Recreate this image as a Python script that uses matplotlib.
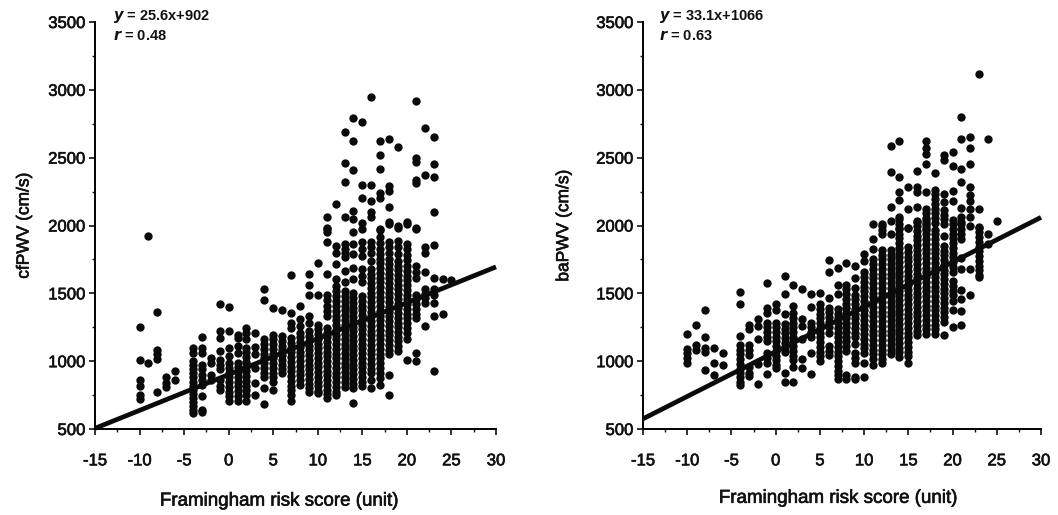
import matplotlib
matplotlib.use("Agg")
import matplotlib.pyplot as plt
import matplotlib.patheffects as pe
from matplotlib.ticker import MultipleLocator

plt.rcParams['font.family'] = ['Liberation Sans', 'DejaVu Sans']

# Values: {risk score: [PWV values]}
cf_pwv = {
    -10: [1255, 1005, 860, 820, 750, 720],
    -9: [1925, 985],
    -8: [1365, 1080, 1050, 1015, 775],
    -7: [880, 840, 810],
    -6: [930, 860],
    -4: [1100, 1060, 1000, 970, 940, 910, 880, 850, 820, 790, 760, 730, 700, 670, 640, 620],
    -3: [1180, 1100, 1060, 975, 940, 900, 860, 825, 745, 640, 625],
    -2: [1025, 985, 900, 860],
    -1: [1420, 1220, 1170, 1075, 1010, 975, 940, 860, 815, 790],
    0: [1400, 1225, 1100, 1035, 985, 950, 915, 880, 845, 810, 775, 740, 705],
    1: [1195, 1170, 1110, 1060, 990, 955, 920, 885, 850, 815, 780, 745, 705],
    2: [1245, 1210, 1160, 1100, 1065, 1030, 995, 960, 925, 890, 855, 820, 785, 750, 705],
    3: [1205, 1105, 1050, 950, 840, 750],
    4: [1530, 1450, 1160, 1125, 1090, 1055, 1020, 985, 950, 915, 880, 800, 685],
    5: [1395, 1195, 1160, 1125, 1090, 1055, 1020, 985, 950, 915, 880, 845, 790],
    6: [1380, 1185, 1150, 1115, 1080, 1045, 1010, 975, 940, 910],
    7: [1635, 1355, 1280, 1245, 1170, 1135, 1100, 1065, 1030, 995, 960, 925, 890, 855, 820, 785, 750, 705],
    8: [1405, 1310, 1260, 1210, 1175, 1140, 1105, 1070, 1035, 1000, 965, 930, 895, 860, 825],
    9: [1645, 1565, 1490, 1330, 1285, 1220, 1185, 1150, 1115, 1080, 1045, 1010, 975, 940, 905, 870, 835, 800, 775],
    10: [1720, 1490, 1270, 1235, 1200, 1165, 1130, 1095, 1060, 1025, 990, 955, 920, 885, 850, 815, 780, 765],
    11: [2060, 1980, 1975, 1950, 1875, 1640, 1490, 1450, 1410, 1370, 1330, 1245, 1210, 1175, 1140, 1105, 1070, 1035, 1000, 965, 930, 895, 860, 825, 790, 755, 730],
    12: [2156, 1850, 1800, 1715, 1605, 1555, 1515, 1480, 1440, 1405, 1370, 1335, 1300, 1265, 1230, 1195, 1160, 1125, 1090, 1055, 1020, 985, 950, 915, 880, 845, 810, 775, 750],
    13: [2690, 2460, 2320, 2060, 1865, 1830, 1795, 1765, 1665, 1580, 1520, 1480, 1445, 1410, 1375, 1340, 1305, 1270, 1235, 1200, 1165, 1130, 1095, 1060, 1025, 990, 955, 920, 885, 850, 810],
    14: [2795, 2620, 2410, 2105, 2050, 1950, 1865, 1790, 1690, 1605, 1500, 1465, 1430, 1395, 1360, 1325, 1290, 1255, 1220, 1185, 1150, 1115, 1080, 1045, 1010, 975, 940, 905, 870, 835, 800, 695],
    15: [2760, 2300, 2205, 2020, 1975, 1875, 1830, 1775, 1680, 1630, 1580, 1480, 1445, 1410, 1375, 1340, 1305, 1270, 1235, 1200, 1165, 1130, 1095, 1060, 1025, 990, 955, 920, 885, 850, 815],
    16: [2950, 2300, 2180, 2100, 2060, 1875, 1840, 1800, 1740, 1680, 1645, 1610, 1575, 1540, 1505, 1470, 1435, 1400, 1365, 1330, 1295, 1260, 1225, 1190, 1155, 1120, 1085, 1050, 1015, 980, 945, 910, 860, 800],
    17: [2620, 2520, 2420, 2240, 2205, 1970, 1975, 1915, 1870, 1830, 1790, 1755, 1720, 1685, 1650, 1615, 1580, 1545, 1510, 1475, 1440, 1405, 1370, 1335, 1300, 1265, 1230, 1195, 1160, 1125, 1090, 1055, 1020, 985, 950, 915, 875, 825],
    18: [2640, 2290, 2255, 2140, 2010, 2025, 1880, 1840, 1800, 1750, 1715, 1680, 1645, 1610, 1575, 1540, 1505, 1470, 1435, 1400, 1365, 1330, 1295, 1260, 1225, 1190, 1155, 1120, 1085, 1050, 900, 750],
    19: [2575, 1985, 2000, 1885, 1840, 1790, 1740, 1705, 1670, 1635, 1600, 1565, 1530, 1495, 1460, 1425, 1390, 1355, 1320, 1285, 1250, 1215, 1180, 1145, 1110, 1075],
    20: [2010, 2025, 1865, 1825, 1785, 1745, 1700, 1665, 1630, 1595, 1560, 1525, 1490, 1455, 1420, 1385, 1350, 1315, 1280, 1245, 1210, 1160, 1010],
    21: [2920, 2495, 2470, 2335, 2315, 1985, 1975, 1700, 1660, 1610, 1490, 1455, 1420, 1385, 1345, 1315, 1060, 1000],
    22: [2720, 2370, 1840, 1800, 1655, 1530, 1495, 1465, 1430, 1260],
    23: [2655, 2455, 2355, 2100, 1855, 1615, 1530, 1490, 1430, 1330, 930],
    24: [1605, 1345],
    25: [1595],
}

ba_pwv = {
    -10: [1200, 1090, 1060, 1025, 990],
    -9: [1265, 1120, 1080],
    -8: [1375, 1180, 1100, 1065, 935],
    -7: [1100, 990, 900],
    -6: [1060, 975],
    -4: [1510, 1420, 1185, 1120, 1085, 1050, 1015, 980, 945, 910, 880, 845, 825],
    -3: [1270, 1235, 1120, 1085, 1045, 960, 910, 890],
    -2: [1310, 1260, 1160, 980, 835],
    -1: [1575, 1395, 1355, 1285, 1250, 1215, 1180, 1145, 1060, 1025, 985, 905],
    0: [1420, 1380, 1285, 1250, 1215, 1180, 1145, 1110, 1075, 1040, 1005, 970, 950],
    1: [1630, 1495, 1345, 1275, 1240, 1205, 1170, 1135, 1100, 1065, 915, 850],
    2: [1560, 1410, 1355, 1320, 1285, 1250, 1215, 1180, 1145, 1110, 1075, 1040, 1005, 960, 850],
    3: [1535, 1310, 1260, 1160, 1015, 950],
    4: [1495, 1400, 1285, 1250, 1215, 1175, 1060, 905],
    5: [1505, 1420, 1385, 1350, 1315, 1280, 1245, 1210, 1175, 1140, 1105, 1070, 1035, 1000],
    6: [1745, 1660, 1465, 1395, 1360, 1325, 1290, 1255, 1210, 1110, 1075, 1045],
    7: [1685, 1565, 1495, 1385, 1350, 1315, 1280, 1245, 1210, 1175, 1140, 1105, 1070, 1035, 1000, 965, 930, 895, 865],
    8: [1725, 1565, 1530, 1495, 1460, 1425, 1390, 1355, 1320, 1285, 1250, 1215, 1180, 1145, 1110, 1075, 900, 870],
    9: [1700, 1610, 1540, 1490, 1455, 1420, 1385, 1350, 1315, 1280, 1245, 1210, 1175, 1130, 1060, 1025, 985, 885, 870],
    10: [1790, 1740, 1655, 1620, 1585, 1550, 1515, 1480, 1445, 1410, 1375, 1340, 1305, 1270, 1235, 1200, 1165, 1130, 1095, 1060, 985, 885],
    11: [2010, 1900, 1825, 1750, 1715, 1680, 1645, 1610, 1575, 1540, 1505, 1470, 1435, 1400, 1365, 1330, 1295, 1260, 1225, 1190, 1155, 1120, 1085, 1050, 1015, 975],
    12: [1995, 2010, 1970, 1935, 1820, 1785, 1750, 1715, 1680, 1645, 1610, 1575, 1540, 1505, 1470, 1435, 1400, 1365, 1330, 1295, 1260, 1225, 1190, 1155, 1120, 1085, 1050, 1015, 985],
    13: [2585, 2395, 2135, 2035, 1935, 1820, 1785, 1750, 1715, 1680, 1645, 1610, 1575, 1540, 1505, 1470, 1435, 1400, 1365, 1330, 1295, 1260, 1225, 1190, 1155, 1120, 1085, 1050],
    14: [2620, 2355, 2250, 2190, 2060, 1985, 2045, 2010, 1975, 1940, 1905, 1870, 1835, 1800, 1765, 1730, 1695, 1660, 1625, 1590, 1555, 1520, 1485, 1450, 1415, 1380, 1345, 1310, 1275, 1240, 1205, 1170, 1135, 1100, 1065, 1030],
    15: [2285, 2125, 1985, 1985, 1840, 1805, 1770, 1735, 1700, 1665, 1630, 1595, 1560, 1525, 1490, 1455, 1420, 1385, 1350, 1315, 1280, 1245, 1210, 1175, 1140, 1105, 1070, 1035, 990],
    16: [2405, 2285, 2245, 2135, 2025, 2030, 1995, 1960, 1925, 1890, 1855, 1820, 1785, 1750, 1715, 1680, 1645, 1610, 1575, 1540, 1505, 1470, 1435, 1400, 1365, 1330, 1295, 1260, 1225, 1190],
    17: [2620, 2570, 2530, 2450, 2245, 2125, 2090, 2055, 2020, 1985, 2040, 2005, 1970, 1935, 1900, 1865, 1830, 1795, 1760, 1725, 1690, 1655, 1620, 1585, 1550, 1515, 1480, 1445, 1410, 1375, 1340, 1305, 1270, 1235, 1200],
    18: [2390, 2265, 2230, 2195, 2160, 2125, 2090, 2055, 2020, 1970, 1935, 1900, 1865, 1830, 1795, 1760, 1725, 1690, 1655, 1620, 1585, 1550, 1515, 1480, 1445, 1410, 1375, 1340, 1305, 1270, 1235, 1200],
    19: [2520, 2485, 2230, 2170, 2115, 2080, 2045, 2010, 1925, 1850, 1815, 1780, 1745, 1710, 1675, 1640, 1605, 1570, 1535, 1500, 1465, 1430, 1395, 1360, 1325, 1290, 1190],
    20: [2545, 2440, 2255, 2180, 2040, 2010, 1975, 1940, 1905, 1870, 1835, 1800, 1765, 1730, 1695, 1655, 1590, 1555, 1520, 1485, 1445, 1375, 1250],
    21: [2800, 2635, 2420, 2320, 2130, 2060, 2025, 2010, 1975, 1940, 1900, 1760, 1680, 1525, 1460, 1370, 1265],
    22: [2650, 2570, 2450, 2285, 2225, 2180, 2125, 2060, 1995, 1680, 1490],
    23: [3120, 2125, 1990, 1985, 1950, 1915, 1880, 1845, 1810, 1775, 1740, 1705, 1670, 1635, 1620],
    24: [2640, 1935, 1860],
    25: [2030],
}

line_x = [-15, 30]
cf_line = [505, 1695]
ba_line = [575, 2060]
x_ticks = [-15, -10, -5, 0, 5, 10, 15, 20, 25, 30]
x_labels = ['-15', '-10', '-5', '0', '5', '10', '15', '20', '25', '30']
y_ticks = [500, 1000, 1500, 2000, 2500, 3000, 3500]

W, H = 1058, 515
fig = plt.figure(figsize=(W / 100, H / 100), dpi=100)
heavy = [pe.withStroke(linewidth=0.45, foreground='#111111')]


def panel(rect, data, line, ylabel, eq, r_val, ypad, tx, xpad, xlab_x):
    ax = fig.add_axes([rect[0] / W, (H - rect[3]) / H, (rect[1] - rect[0]) / W, (rect[3] - rect[2]) / H])
    xs, ys = [], []
    for k, vals in data.items():
        xs += [k] * len(vals)
        ys += vals
    ax.scatter(xs, ys, s=36, c='#0a0a0a', linewidths=0, zorder=3, clip_on=False)
    ax.plot(line_x, line, color='#0a0a0a', lw=3.4, solid_capstyle='butt', zorder=4, clip_on=False)
    ax.set_xlim(-15, 30)
    ax.set_ylim(500, 3500)
    ax.set_xticks(x_ticks, x_labels)
    ax.set_yticks(y_ticks)
    ax.xaxis.set_minor_locator(MultipleLocator(2.5))
    ax.yaxis.set_minor_locator(MultipleLocator(250))
    for s in ('top', 'right'):
        ax.spines[s].set_visible(False)
    for s in ('left', 'bottom'):
        ax.spines[s].set_linewidth(1.4)
    ax.tick_params(which='major', length=4, width=1.2, labelsize=12, colors='#111111')
    ax.tick_params(axis='x', which='major', pad=13.5)
    ax.tick_params(axis='y', which='major', pad=3)
    ax.tick_params(which='minor', length=2.5, width=1.0, colors='#111111')
    ax.set_xlabel('Framingham risk score (unit)', fontsize=13.5, labelpad=xpad, color='#111111',
                  path_effects=heavy, x=xlab_x)
    ax.set_ylabel(ylabel, fontsize=12.5, labelpad=ypad, color='#111111', path_effects=heavy)
    for t in ax.get_xticklabels() + ax.get_yticklabels():
        t.set_path_effects(heavy)
    ax.text(tx, 1.013, r'$\mathbfit{y}$ = ' + eq, transform=ax.transAxes, fontsize=10.5,
            fontweight='bold', va='center', ha='left', color='#111111', math_fontfamily='dejavusans')
    ax.text(tx, 0.966, r'$\mathbfit{r}$ = ' + r_val, transform=ax.transAxes, fontsize=10.5,
            fontweight='bold', va='center', ha='left', color='#111111', math_fontfamily='dejavusans')
    return ax


panel((95, 496, 22, 429), cf_pwv, cf_line, 'cfPWV (cm/s)', '25.6x+902', '0.48', 12, 0.045, 17.5, 0.459)
panel((643, 1041, 22, 429), ba_pwv, ba_line, 'baPWV (cm/s)', '33.1x+1066', '0.63', 18, 0.04, 15.5, 0.490)

fig.savefig('out.png', dpi=100, facecolor='white')
